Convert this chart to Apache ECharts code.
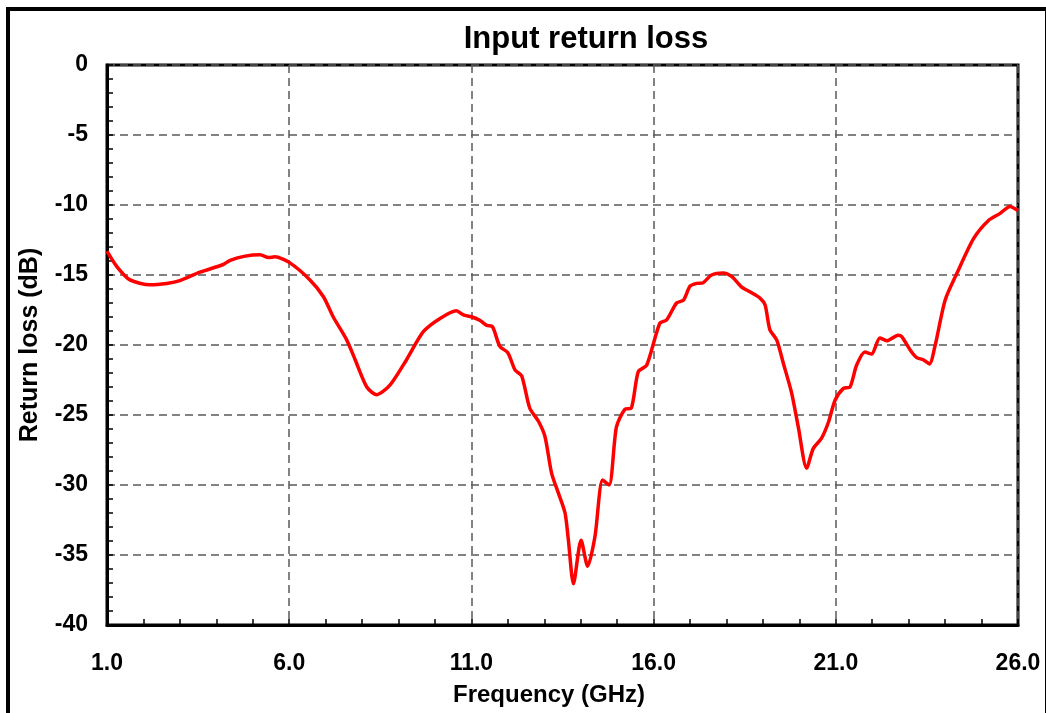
<!DOCTYPE html>
<html>
<head>
<meta charset="utf-8">
<script src="https://cdn.jsdelivr.net/npm/echarts@6/dist/echarts.min.js"></script>
<style>html,body{margin:0;padding:0;background:#fff;}#c{width:1046px;height:713px;}</style>
</head>
<body>
<div id="c"></div>
<script>
const titleText = 'Input return loss';
const xName = 'Frequency (GHz)';
const yName = 'Return loss (dB)';
const freq = [1.0,1.27,1.63,2.18,2.64,3.0,3.55,4.19,4.38,4.79,5.2,5.43,5.61,6.0,6.57,6.94,7.21,7.58,7.81,8.13,8.4,8.77,9.22,9.68,10.14,10.59,10.78,11.0,11.24,11.42,11.58,11.78,12.0,12.2,12.38,12.6,12.84,13.02,13.2,13.39,13.57,13.66,13.8,14.01,14.19,14.39,14.6,14.78,14.98,15.21,15.39,15.58,15.81,16.17,16.36,16.63,16.82,17.0,17.18,17.36,17.59,17.91,18.14,18.41,18.64,18.92,19.06,19.19,19.38,19.56,19.79,19.97,20.2,20.38,20.61,20.8,20.98,21.21,21.39,21.57,21.8,21.98,22.21,22.4,22.71,22.81,23.04,23.22,23.4,23.57,23.72,24.0,24.32,24.78,25.19,25.51,25.78,26.0];
const returnLoss = [-13.3,-14.4,-15.35,-15.7,-15.6,-15.4,-14.8,-14.25,-13.95,-13.65,-13.55,-13.75,-13.7,-14.1,-15.35,-16.55,-18.0,-19.65,-21.05,-23.0,-23.55,-22.85,-21.05,-19.05,-18.1,-17.55,-17.85,-17.98,-18.25,-18.6,-18.7,-20.1,-20.55,-21.8,-22.2,-24.5,-25.45,-26.55,-29.15,-30.6,-32.0,-33.9,-37.05,-33.95,-35.8,-33.7,-29.65,-30.0,-25.85,-24.6,-24.5,-21.9,-21.45,-18.45,-18.2,-17.0,-16.8,-15.8,-15.6,-15.55,-15.0,-14.85,-15.1,-15.85,-16.2,-16.65,-17.15,-18.9,-19.65,-21.3,-23.45,-25.85,-28.8,-27.4,-26.65,-25.5,-23.95,-23.1,-23.0,-21.45,-20.5,-20.65,-19.5,-19.7,-19.3,-19.4,-20.35,-20.9,-21.05,-21.35,-20.1,-16.8,-14.9,-12.4,-11.1,-10.6,-10.1,-10.4];

const chart = echarts.init(document.getElementById('c'), null, {renderer: 'canvas'});
const font = '"Liberation Sans", Arial, sans-serif';
const gridDash = {color: '#5a5a5a', width: 1.5, type: [8, 5]};
chart.setOption({
  animation: false,
  backgroundColor: '#fff',
  title: {
    text: titleText, left: 581, top: 19, textAlign: 'center',
    textStyle: {fontFamily: font, fontWeight: 'bold', fontSize: 31, color: '#000'}
  },
  graphic: [
    {type: 'rect', shape: {x: 8, y: 9, width: 1039, height: 730}, style: {fill: 'none', stroke: '#000', lineWidth: 4}, silent: true},
    {type: 'text', style: {text: xName, x: 549, y: 695, align: 'center', verticalAlign: 'middle', font: 'bold 24px ' + font, fill: '#000'}}
  ],
  grid: {left: 107, top: 65, width: 911, height: 560, show: true, borderColor: '#000', borderWidth: 3, backgroundColor: 'transparent'},
  xAxis: {
    type: 'value', min: 1, max: 26, interval: 5,
    axisLine: {show: true, onZero: false, lineStyle: {color: '#000', width: 3}},
    axisTick: {show: true, inside: true, length: 6, lineStyle: {color: '#000', width: 1.5}},
    minorTick: {show: true, splitNumber: 5, length: 6, lineStyle: {color: '#000', width: 1.5}},
    splitLine: {show: true, lineStyle: gridDash},
    axisLabel: {margin: 27, fontFamily: font, fontWeight: 'bold', fontSize: 23, color: '#000', formatter: v => v.toFixed(1)}
  },
  yAxis: {
    type: 'value', min: -40, max: 0, interval: 5,
    name: yName, nameLocation: 'middle', nameGap: 64, nameRotate: 90,
    nameTextStyle: {fontFamily: font, fontWeight: 'bold', fontSize: 25, color: '#000'},
    axisLine: {show: true, onZero: false, lineStyle: {color: '#000', width: 3}},
    axisTick: {show: true, inside: true, length: 6, lineStyle: {color: '#000', width: 1.5}},
    minorTick: {show: true, splitNumber: 5, length: 6, lineStyle: {color: '#000', width: 1.5}},
    splitLine: {show: true, lineStyle: gridDash},
    axisLabel: {margin: 19, fontFamily: font, fontWeight: 'bold', fontSize: 23, color: '#000'}
  },
  series: [{
    type: 'line', data: freq.map((f, i) => [f, returnLoss[i]]),
    showSymbol: false, smooth: 0.25, clip: true,
    lineStyle: {color: '#ff0000', width: 3.5}
  }]
});
</script>
</body>
</html>
